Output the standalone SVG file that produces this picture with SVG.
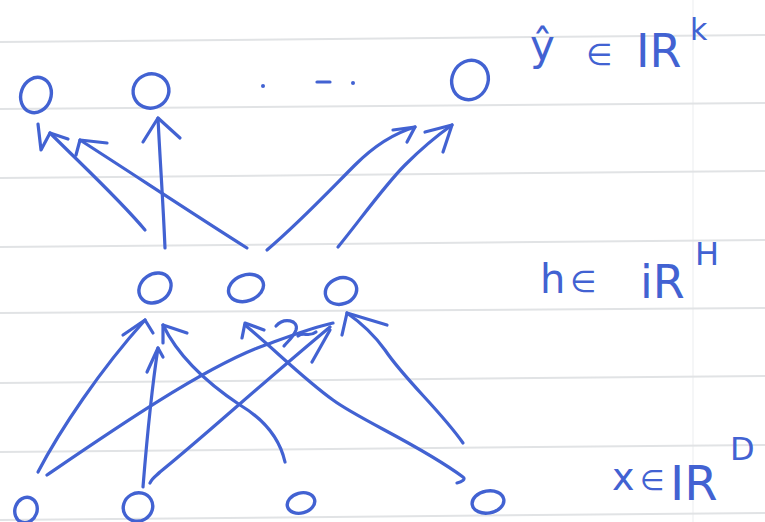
<svg xmlns="http://www.w3.org/2000/svg" width="765" height="522" viewBox="0 0 765 522">
  <style>
    .rule { stroke: #e1e3e5; stroke-width: 2; fill: none; }
    .margin { stroke: #f2f3f4; stroke-width: 1.5; fill: none; }
    .ink { stroke: #4262d2; stroke-width: 3.2; fill: none; stroke-linecap: round; stroke-linejoin: round; }
    .unit { stroke: #4262d2; stroke-width: 3.4; fill: none; }
    .label { fill: #4262d2; font-family: "DejaVu Sans", "Noto Sans", sans-serif; }
  </style>

  <!-- lined notebook paper -->
  <rect width="765" height="522" fill="#ffffff"/>
  <g id="paper">
    <line class="margin" x1="693" y1="0" x2="693" y2="522"/>
    <line class="rule" x1="0" y1="42" x2="765" y2="35"/>
    <line class="rule" x1="0" y1="109" x2="765" y2="103"/>
    <line class="rule" x1="0" y1="178" x2="765" y2="171"/>
    <line class="rule" x1="0" y1="247" x2="765" y2="240"/>
    <line class="rule" x1="0" y1="313" x2="765" y2="308"/>
    <line class="rule" x1="0" y1="383" x2="765" y2="376"/>
    <line class="rule" x1="0" y1="452" x2="765" y2="445"/>
    <line class="rule" x1="0" y1="520" x2="765" y2="513"/>
  </g>

  <!-- connectors: hidden -> output -->
  <g id="connectors">
    <g id="h-y1-a">
      <path class="ink" d="M145,230 C120,200 82,165 50,133"/>
      <path class="ink" d="M38,124 L41,150 L50,133 L68,139"/>
    </g>
    <g id="h-y1-b">
      <path class="ink" d="M247,248 C190,212 130,172 80,140"/>
      <path class="ink" d="M76,155 L80,140 L107,143"/>
    </g>
    <g id="h-y2">
      <path class="ink" d="M165,248 C163,200 160,160 158,118"/>
      <path class="ink" d="M143,142 L158,118 L180,138"/>
    </g>
    <g id="h-yk-a">
      <path class="ink" d="M267,250 C300,222 330,190 355,165 C375,145 395,133 415,127"/>
      <path class="ink" d="M393,130 L415,127 L407,142"/>
    </g>
    <g id="h-yk-b">
      <path class="ink" d="M338,247 C360,220 385,185 405,165 C420,150 435,137 452,125"/>
      <path class="ink" d="M425,132 L452,125 L443,152"/>
    </g>

    <!-- connectors: input -> hidden -->
    <g id="x1-h1">
      <path class="ink" d="M38,472 C60,430 100,370 145,320"/>
      <path class="ink" d="M123,335 L145,320 L153,333"/>
    </g>
    <g id="x1-h3">
      <path class="ink" d="M47,475 C110,432 200,370 260,347 C285,338 310,328 333,323"/>
      <path class="ink" d="M276,326 C284,317 299,320 296,330 C293,338 287,342 284,346"/>
      <path class="ink" d="M298,336 C304,331 308,338 316,332"/>
    </g>
    <g id="x2-h1">
      <path class="ink" d="M143,487 C146,450 150,400 158,348"/>
      <path class="ink" d="M147,372 L158,348 L163,357"/>
    </g>
    <g id="x2-h3">
      <path class="ink" d="M150,483 C152,478 156,476 160,472 C200,440 260,385 330,327"/>
      <path class="ink" d="M312,362 L330,330"/>
    </g>
    <g id="x3-h1">
      <path class="ink" d="M285,462 C280,440 265,420 240,405 C210,385 180,360 163,325"/>
      <path class="ink" d="M163,343 L163,325 L187,333"/>
    </g>
    <g id="x4-h2">
      <path class="ink" d="M457,483 C462,482 466,479 463,477 C420,445 360,420 333,400 C305,380 275,350 245,325"/>
      <path class="ink" d="M242,338 L245,323 L264,330"/>
    </g>
    <g id="x4-h3">
      <path class="ink" d="M463,443 C440,410 405,380 385,350 C372,332 360,322 347,313"/>
      <path class="ink" d="M342,335 L347,313 L387,325"/>
    </g>
  </g>

  <!-- output layer -->
  <g id="y1"><ellipse class="unit" cx="36" cy="95" rx="15" ry="18" transform="rotate(20 36 95)"/></g>
  <g id="y2"><ellipse class="unit" cx="151" cy="91" rx="18" ry="17" transform="rotate(-20 151 91)"/></g>
  <g id="ellipsis">
    <circle cx="263" cy="86" r="2" fill="#4262d2"/>
    <path class="ink" d="M317,82 L330,82"/>
    <circle cx="353" cy="83" r="2" fill="#4262d2"/>
  </g>
  <g id="yk"><ellipse class="unit" cx="470" cy="80" rx="18" ry="20" transform="rotate(25 470 80)"/></g>

  <!-- hidden layer -->
  <g id="h1"><ellipse class="unit" cx="155" cy="288" rx="17" ry="14" transform="rotate(-35 155 288)"/></g>
  <g id="h2"><ellipse class="unit" cx="246" cy="288" rx="18" ry="13" transform="rotate(-20 246 288)"/></g>
  <g id="h3"><ellipse class="unit" cx="341" cy="291" rx="16" ry="13" transform="rotate(-20 341 291)"/></g>

  <!-- input layer -->
  <g id="x1"><ellipse class="unit" cx="26" cy="510" rx="11" ry="13" transform="rotate(20 26 510)"/></g>
  <g id="x2"><ellipse class="unit" cx="138" cy="507" rx="15" ry="14" transform="rotate(-30 138 507)"/></g>
  <g id="x3"><ellipse class="unit" cx="301" cy="503" rx="14" ry="10" transform="rotate(-15 301 503)"/></g>
  <g id="x4"><ellipse class="unit" cx="488" cy="502" rx="16" ry="11" transform="rotate(-10 488 502)"/></g>

  <!-- layer labels -->
  <g id="label-output">
    <text class="label" x="530" y="60" font-size="42">ŷ</text>
    <text class="label" x="586" y="65" font-size="30">∈</text>
    <text class="label" x="636" y="67" font-size="46">IR</text>
    <text class="label" x="690" y="40" font-size="30">k</text>
  </g>
  <g id="label-hidden">
    <text class="label" x="540" y="293" font-size="40">h</text>
    <text class="label" x="570" y="292" font-size="30">∈</text>
    <text class="label" x="640" y="298" font-size="46">iR</text>
    <text class="label" x="695" y="265" font-size="32">H</text>
  </g>
  <g id="label-input">
    <text class="label" x="612" y="490" font-size="38">x</text>
    <text class="label" x="640" y="490" font-size="28">∈</text>
    <text class="label" x="670" y="500" font-size="48">IR</text>
    <text class="label" x="730" y="460" font-size="32">D</text>
  </g>
</svg>
